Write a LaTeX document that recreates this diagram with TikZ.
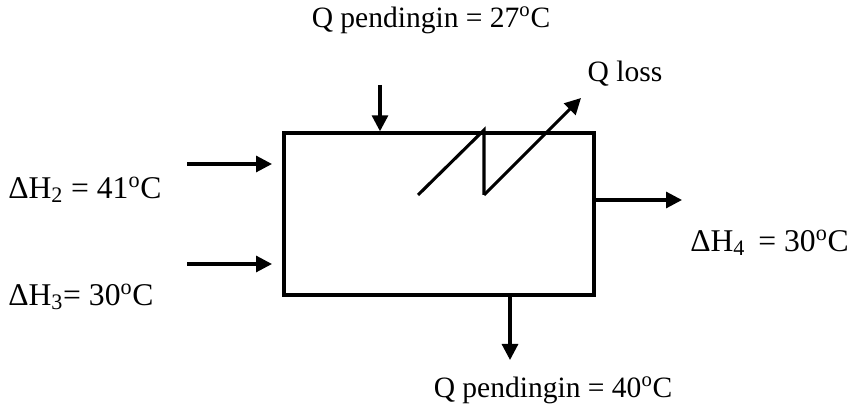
\documentclass[tikz,border=0pt]{standalone}
\usepackage{fontspec}
\setmainfont{Liberation Serif}
\usepackage{tikz}
\usetikzlibrary{arrows.meta, positioning, calc}
\tikzset{
  tankbox/.style={rectangle, draw=black, line width=2.4pt,
    minimum width=7.75cm, minimum height=4.05cm, inner sep=0pt},
  flowarrow/.style={-{Triangle[length=0.4cm, width=0.4cm]}, line width=2.2pt},
  lossline/.style={line width=2.2pt},
  lbl/.style={font=\fontsize{21}{25}\selectfont, inner sep=0pt},
  hlbl/.style={font=\fontsize{22.5}{27}\selectfont, inner sep=0pt, anchor=west}
}

\begin{document}
\begin{tikzpicture}
  \useasboundingbox (0,0) rectangle (21.225,10.25);
  % Define tank
  \node[tankbox] (tank) at (10.975, 4.9) {};

  % Labels
  \node[lbl] (qtop) at (10.775, 9.75) {Q pendingin = 27\textsuperscript{o}C};
  \node[lbl] (qbot) at (13.825, 0.5) {Q pendingin = 40\textsuperscript{o}C};
  \node[hlbl] (h2) at (0.2, 5.5) {ΔH\textsubscript{2} = 41\textsuperscript{o}C};
  \node[hlbl] (h3) at (0.2, 2.825) {ΔH\textsubscript{3}= 30\textsuperscript{o}C};
  \node[hlbl] (h4) at (17.25, 4.175) {ΔH\textsubscript{4}\, = 30\textsuperscript{o}C};
  \node[lbl] (qloss) at (15.625, 8.4) {Q loss};

  % Free ends of the streams
  \coordinate (qin) at (9.5, 8.125);
  \coordinate (qout) at (12.75, 1.25);
  \coordinate (h2a) at (4.675, 6.15);
  \coordinate (h2b) at (6.8, 6.15);
  \coordinate (h3a) at (4.675, 3.65);
  \coordinate (h3b) at (6.8, 3.65);
  \coordinate (h4b) at (17.05, 5.25);

  % Streams
  % cooling in
  \draw[flowarrow] (qin) -- (qin |- tank.north);
  % cooling out
  \draw[flowarrow] (qout |- tank.south) -- (qout);
  % inlets
  \draw[flowarrow] (h2a) -- (h2b);
  \draw[flowarrow] (h3a) -- (h3b);
  % outlet
  \draw[flowarrow] (h4b -| tank.east) -- (h4b);

  % Heat loss
  \coordinate (z0) at (10.45, 5.375);
  \coordinate (z1) at (12.1, 7.0);
  \coordinate (z2) at (12.1, 5.375);
  \coordinate (z3) at (14.525, 7.8);
  \draw[lossline, line join=miter] (z0) -- (z1) -- (z2);
  \draw[flowarrow] (z2) -- (z3);
\end{tikzpicture}
\end{document}
